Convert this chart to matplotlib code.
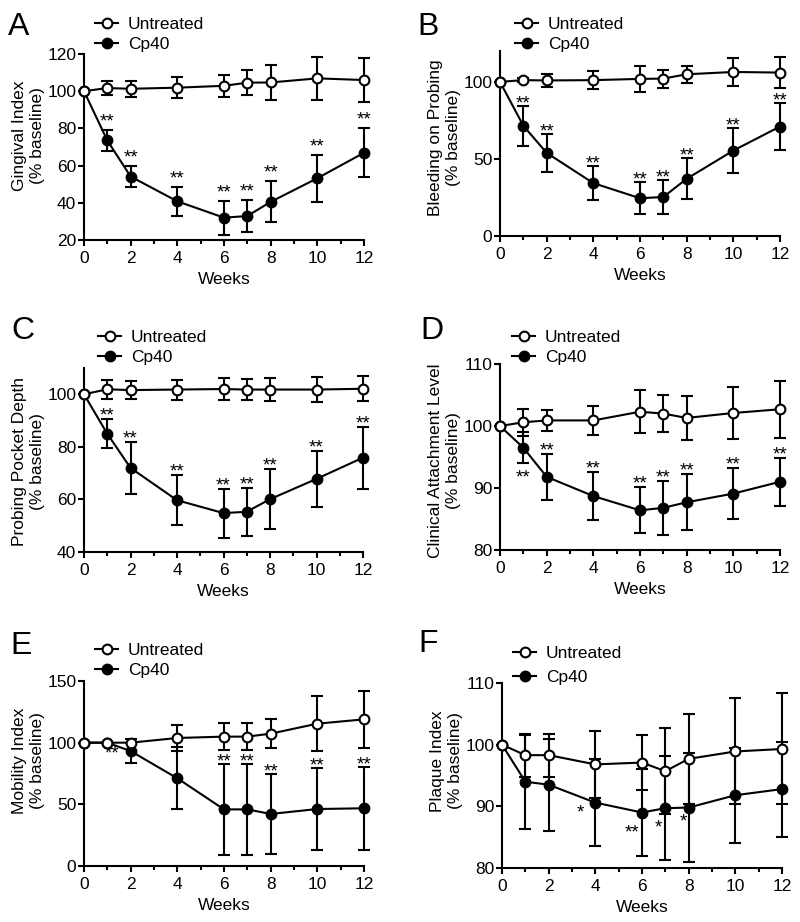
import matplotlib
matplotlib.use("Agg")
import matplotlib.pyplot as plt
from matplotlib.ticker import MultipleLocator

plt.rcParams['font.family'] = ['Liberation Sans', 'DejaVu Sans']
plt.rcParams['font.size'] = 12.5

weeks = [0, 1, 2, 4, 6, 7, 8, 10, 12]

# A - gingival index
gi_untreated = [100, 101.7, 101.3, 101.9, 102.9, 104.6, 104.7, 106.9, 106.0]
gi_untreated_err = [0, 4.0, 4.3, 5.7, 6.0, 6.6, 9.6, 11.7, 11.8]
gi_cp40 = [100, 73.5, 54.1, 40.8, 32.0, 32.9, 40.5, 53.2, 66.9]
gi_cp40_err = [0, 5.7, 5.8, 7.9, 9.2, 8.8, 11.0, 12.6, 13.2]
gi_stars = ['', '**', '**', '**', '**', '**', '**', '**', '**']

# B - bleeding on probing
bop_untreated = [100, 101.1, 100.9, 101.1, 101.9, 102.1, 104.9, 106.4, 106.0]
bop_untreated_err = [0, 1.5, 4.3, 6.0, 8.6, 5.8, 5.6, 9.1, 9.9]
bop_cp40 = [100, 71.5, 53.9, 34.3, 24.5, 25.3, 37.1, 55.4, 71.0]
bop_cp40_err = [0, 12.8, 12.2, 11.0, 10.5, 11.2, 13.3, 14.8, 15.5]
bop_stars = ['', '**', '**', '**', '**', '**', '**', '**', '**']

# C - probing pocket depth
ppd_untreated = [100, 101.9, 101.6, 101.8, 102.0, 101.8, 101.8, 101.8, 102.1]
ppd_untreated_err = [0, 3.7, 3.5, 3.8, 4.2, 4.0, 4.5, 4.6, 4.8]
ppd_cp40 = [100, 85.0, 72.0, 59.7, 54.8, 55.3, 60.1, 67.8, 75.9]
ppd_cp40_err = [0, 5.5, 9.9, 9.6, 9.3, 9.1, 11.5, 10.8, 11.8]
ppd_stars = ['', '**', '**', '**', '**', '**', '**', '**', '**']

# D - clinical attachment level
cal_untreated = [100, 100.6, 100.9, 100.9, 102.3, 102.0, 101.3, 102.1, 102.7]
cal_untreated_err = [0, 2.2, 1.75, 2.3, 3.45, 3.0, 3.6, 4.2, 4.6]
cal_cp40 = [100, 96.5, 91.8, 88.7, 86.4, 86.8, 87.7, 89.1, 91.0]
cal_cp40_err = [0, 2.5, 3.75, 3.9, 3.7, 4.3, 4.5, 4.1, 3.9]
cal_stars = ['', '**', '**', '**', '**', '**', '**', '**', '**']

# E - mobility index
mi_untreated = [100, 100, 100, 103.8, 104.9, 104.9, 107.3, 115.4, 118.9]
mi_untreated_err = [0, 0, 0, 10.3, 10.8, 10.8, 11.9, 22.2, 23.3]
mi_cp40 = [100, 100, 93.2, 71.1, 45.9, 45.9, 42.2, 46.2, 46.8]
mi_cp40_err = [0, 0, 9.5, 25.0, 37.0, 37.0, 32.5, 33.0, 33.8]
mi_stars = ['', '**', '', '', '**', '**', '**', '**', '**']

# F - plaque index
pi_untreated = [100, 98.3, 98.3, 96.8, 97.1, 95.7, 97.7, 98.9, 99.3]
pi_untreated_err = [0, 3.5, 3.5, 5.4, 4.5, 7.0, 7.3, 8.6, 9.0]
pi_cp40 = [100, 94.0, 93.5, 90.6, 89.0, 89.7, 89.8, 91.8, 92.8]
pi_cp40_err = [0, 7.6, 7.5, 7.1, 7.0, 8.4, 8.8, 7.7, 7.7]
pi_stars = ['', '', '', '*', '**', '*', '*', '', '']

ylabels = ['Gingival Index', 'Bleeding on Probing', 'Probing Pocket Depth',
           'Clinical Attachment Level', 'Mobility Index', 'Plaque Index']
letters = ['A', 'B', 'C', 'D', 'E', 'F']

panels = [
    (gi_untreated, gi_untreated_err, gi_cp40, gi_cp40_err, gi_stars),
    (bop_untreated, bop_untreated_err, bop_cp40, bop_cp40_err, bop_stars),
    (ppd_untreated, ppd_untreated_err, ppd_cp40, ppd_cp40_err, ppd_stars),
    (cal_untreated, cal_untreated_err, cal_cp40, cal_cp40_err, cal_stars),
    (mi_untreated, mi_untreated_err, mi_cp40, mi_cp40_err, mi_stars),
    (pi_untreated, pi_untreated_err, pi_cp40, pi_cp40_err, pi_stars),
]

# layout (pixels): axes left, top, right, bottom
W, H = 800, 922
boxes = [(84, 54, 364, 240), (500, 51, 780, 236),
         (84, 368, 363, 552), (500, 364, 780, 550),
         (84, 681, 364, 866), (502, 683, 782, 868)]
ylims = [(20, 120), (0, 120), (40, 110), (80, 110), (0, 150), (80, 110)]
ysteps = [20, 50, 20, 10, 50, 10]
letter_pos = [(8, 12), (417, 12), (11, 316), (420, 316), (10, 631), (418, 629)]
legend_pos = [(95, 25), (515, 25), (98, 338), (512, 338), (95, 651), (513, 654)]
legend_spacing = [0.3, 0.3, 0.3, 0.3, 0.3, 0.55]
ylabel_y = [0.56, 0.53, 0.49, 0.48, 0.57, 0.58]
# star offset above Cp40 error top (px); special placements per (panel, week index)
star_gap = [14, 8, 9, 9, 8, 8]
star_special = {
    (3, 1): ('bottom', 0, -9),
    (4, 1): ('point', 5, -5),
    (5, 3): ('point', -15, -4),
    (5, 4): ('point', -10, -14),
    (5, 5): ('point', -7, -14),
    (5, 6): ('point', -5, -8),
}

fs = 12.5
star_fs = 13.5
em_px = star_fs * 100 / 72
px2pt = 72 / 100

fig = plt.figure(figsize=(W / 100, H / 100), dpi=100)

for i, (unt, unt_err, cp, cp_err, stars) in enumerate(panels):
    l, t, r, b = boxes[i]
    ax = fig.add_axes([l / W, 1 - b / H, (r - l) / W, (b - t) / H])

    style = dict(color='black', lw=1.5, ms=7, mew=1.5, capsize=4.5, capthick=1.5,
                 elinewidth=1.5, marker='o', clip_on=False)
    e1 = ax.errorbar(weeks, cp, yerr=cp_err, mfc='black', label='Cp40', zorder=3, **style)
    e0 = ax.errorbar(weeks, unt, yerr=unt_err, mfc='white', label='Untreated', zorder=4, **style)
    for cont in (e0, e1):
        for art in cont.get_children():
            art.set_clip_on(False)

    for j, s in enumerate(stars):
        if not s:
            continue
        spec = star_special.get((i, j))
        if spec is None:
            y0 = cp[j] + cp_err[j]
            dx, dy = 0, star_gap[i]
        else:
            kind, dx, dy = spec
            y0 = cp[j] if kind == 'point' else cp[j] - cp_err[j]
        ax.annotate(s, (weeks[j], y0), xytext=(dx * px2pt, (dy - 0.56 * em_px) * px2pt),
                    textcoords='offset points', ha='center', va='baseline',
                    fontsize=star_fs, zorder=2, annotation_clip=False)

    ax.set_xlim(0, 12)
    ax.set_ylim(*ylims[i])
    ax.xaxis.set_major_locator(MultipleLocator(2))
    ax.xaxis.set_minor_locator(MultipleLocator(1))
    ax.yaxis.set_major_locator(MultipleLocator(ysteps[i]))
    for side in ('top', 'right'):
        ax.spines[side].set_visible(False)
    for side in ('left', 'bottom'):
        ax.spines[side].set_linewidth(1.5)
    ax.tick_params(axis='both', which='major', direction='out', length=4.5, width=1.5,
                   labelsize=fs)
    ax.tick_params(axis='x', which='minor', direction='out', length=3, width=1.5)
    ax.tick_params(axis='x', which='major', pad=3.5)
    ax.tick_params(axis='y', which='major', pad=1)

    ax.set_xlabel('Weeks', fontsize=fs, labelpad=4)
    ax.set_ylabel(ylabels[i] + '\n(% baseline)', fontsize=fs, linespacing=1.25)
    ax.yaxis.set_label_coords(-0.138, ylabel_y[i])

    lx, ly = legend_pos[i]
    handles = [e0, e1]
    ax.legend(handles=[h.lines[0] for h in handles], labels=['Untreated', 'Cp40'],
              loc='upper left', bbox_to_anchor=(lx / W, 1 - (ly - 8.5) / H),
              bbox_transform=fig.transFigure, frameon=False, fontsize=fs,
              borderpad=0, borderaxespad=0, handlelength=1.35, handletextpad=0.55,
              labelspacing=legend_spacing[i], markerscale=1.0)

    px, py = letter_pos[i]
    fig.text(px / W, 1 - py / H, letters[i], fontsize=23, ha='left', va='top')

fig.savefig('out.png', dpi=100, facecolor='white')
